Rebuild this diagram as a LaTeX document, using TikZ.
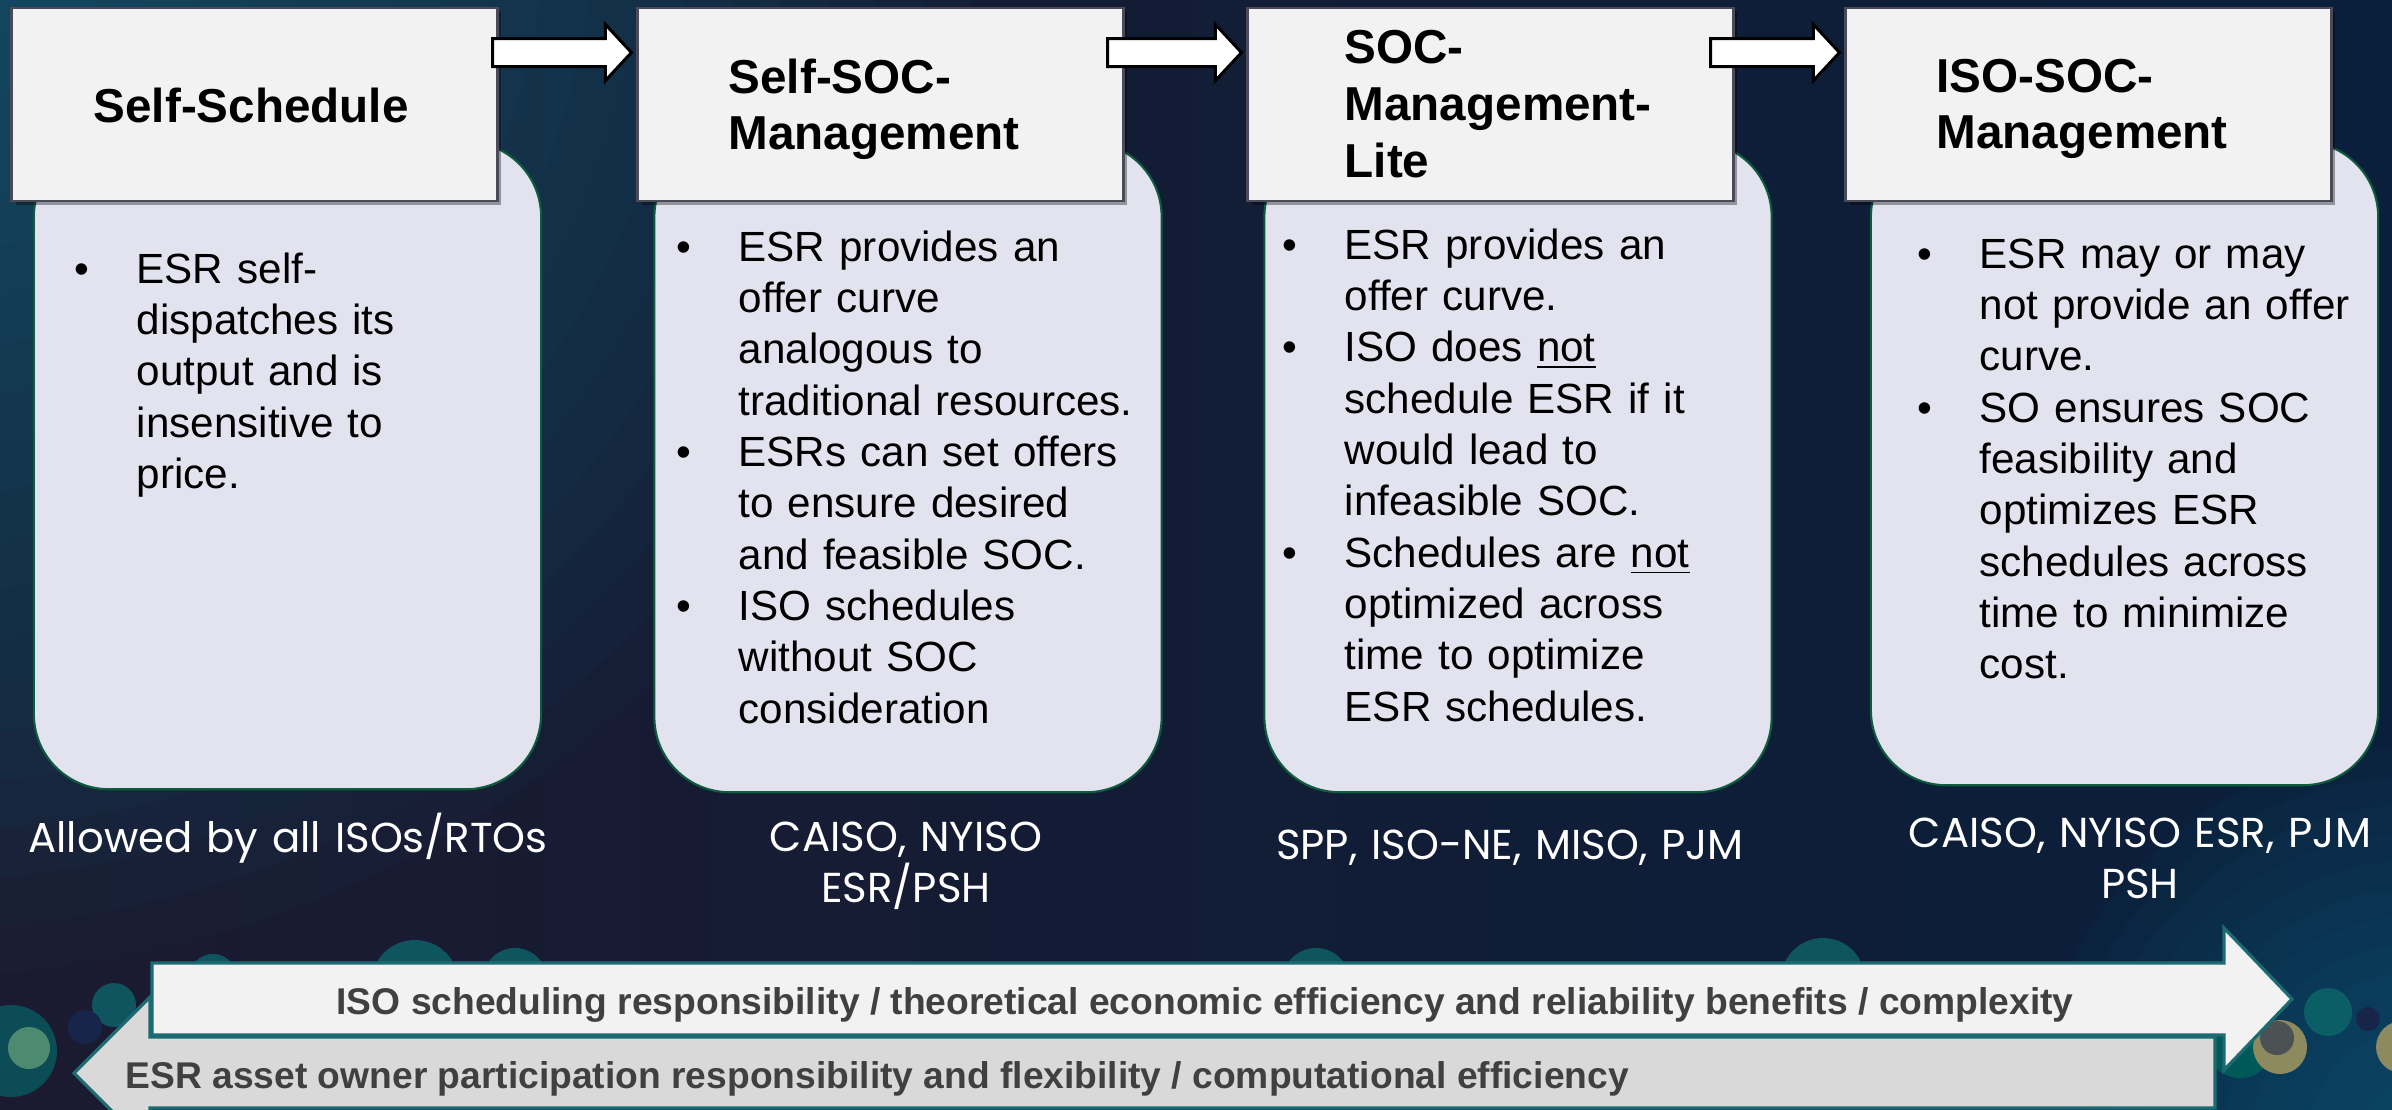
\documentclass[tikz,border=0pt]{standalone}
\usepackage{fontspec}
\setmainfont{Liberation Sans}
\newfontfamily\gothic{Poppins}
\usetikzlibrary{calc,shadows}

\definecolor{bgL}{HTML}{1B1A30}
\definecolor{bgR}{HTML}{0A1F3B}
\definecolor{glowTeal}{HTML}{137590}
\definecolor{cornerTeal}{HTML}{0A6A8C}
\definecolor{hdrFill}{HTML}{F2F2F2}
\definecolor{hdrLine}{HTML}{4A4A58}
\definecolor{bodyFill}{HTML}{E3E3EF}
\definecolor{bodyLine}{HTML}{0D5C3E}
\definecolor{dotTeal}{HTML}{0E5560}
\definecolor{dotNavy}{HTML}{17254A}
\definecolor{dotGreen}{HTML}{4E8A6F}
\definecolor{dotOlive}{HTML}{8C8A5E}
\definecolor{dotGray}{HTML}{4B5254}
\definecolor{bandLine}{HTML}{1D6B72}
\definecolor{bandText}{HTML}{404040}
\definecolor{bandLight}{HTML}{F2F2F2}
\definecolor{bandGray}{HTML}{D9D9D9}

% bullet hanging to the left of the text column
\newcommand{\bul}{\leavevmode\llap{\textbullet\hspace{0.476cm}}}

% block arrow between two header boxes
\newcommand{\hdrarrow}[3]{%
  \draw[harrow] ($(#1.north east)+(#3,32)$) -- ($(#2.north west)+(-31,32)$)
    -- ($(#2.north west)+(-31,18)$) -- ($(#2.north west)+(-5,46)$)
    -- ($(#2.north west)+(-31,74)$) -- ($(#2.north west)+(-31,60)$)
    -- ($(#1.north east)+(#3,60)$) -- cycle;}

\begin{document}
\begin{tikzpicture}[x=0.01cm,y=-0.01cm,
  hdr/.style={fill=hdrFill, draw=hdrLine, line width=0.8pt,
    minimum width=4.85cm, minimum height=1.93cm, inner sep=0,
    drop shadow={shadow xshift=1.2pt, shadow yshift=-1.2pt, opacity=0.35, fill=black}},
  body/.style={fill=bodyFill, draw=bodyLine, line width=0.6pt, rounded corners=0.75cm,
    minimum width=5.07cm, inner sep=0},
  harrow/.style={fill=white, draw=black, line width=0.85pt, line join=miter},
  band/.style={draw=bandLine, line width=0.9pt, line join=miter},
  hdrtext/.style={anchor=base west, inner sep=0, text width=4.2cm, align=left,
    font=\fontsize{13.54}{16.2}\selectfont\bfseries, text=black},
  bodytext/.style={anchor=base west, inner sep=0, text width=4.6cm, align=left,
    font=\fontsize{12.0}{14.6}\selectfont, text=black},
  label/.style={anchor=base, inner sep=0, text width=6cm, align=center,
    font=\gothic\fontsize{11.9}{14.5}\selectfont, text=white},
  bandtext/.style={inner sep=0, font=\fontsize{10.58}{12}\selectfont\bfseries, text=bandText}]

\useasboundingbox (0,0) rectangle (2392,1109);

\begin{scope}
  \clip (0,0) rectangle (2392,1109);
  % backdrop
  \shade[left color=bgL, right color=bgR] (0,0) rectangle (2392,1109);
  \foreach \k in {1,...,22}
    \fill[glowTeal, opacity=0.04] (-80,-80) circle ({48*\k});
  \foreach \k in {1,...,14}
    \fill[cornerTeal, opacity=0.06] (2420,1140) circle ({28*\k});

  % decorative dots along the bottom
  \fill[dotTeal] (213,978) circle (24);
  \fill[dotTeal] (415,984) circle (44);
  \fill[dotTeal] (515,980) circle (32);
  \fill[dotTeal] (1216,985) circle (18);
  \fill[dotTeal] (1316,982) circle (34);
  \fill[dotTeal] (1823,980) circle (42);
  \fill[dotTeal] (114,1005) circle (22);
  \fill[dotNavy] (85,1027) circle (17);
  \fill[dotTeal!90!black] (11,1051) circle (46);
  \fill[dotGreen] (29,1048) circle (21);
  \fill[teal!70!black] (2240,1045) circle (33);
  \fill[dotTeal!80!teal] (2328,1012) circle (24);
  \fill[dotNavy] (2368,1019) circle (12);
  \fill[dotOlive] (2280,1047) circle (27);
  \fill[dotGray] (2277,1038) circle (17);
  \fill[dotOlive] (2402,1047) circle (26);
\end{scope}

% content panels
\node[body, minimum height=6.47cm] (b1) at (287.5,465.5) {};
\node[body, minimum height=6.50cm] (b2) at (908,467) {};
\node[body, minimum height=6.50cm] (b3) at (1518,467) {};
\node[body, minimum height=6.43cm] (b4) at (2124.5,463.5) {};

% header boxes
\node[hdr] (h1) at (254.5,104.5) {};
\node[hdr] (h2) at (880.5,104.5) {};
\node[hdr] (h3) at (1490.5,104.5) {};
\node[hdr] (h4) at (2088.5,104.5) {};

\hdrarrow{h1}{h2}{-6}
\hdrarrow{h2}{h3}{-17}
\hdrarrow{h3}{h4}{-24}

% header titles
\node[hdrtext] (t1) at (93,122) {Self-Schedule};
\node[hdrtext] (t2) at (728,93) {Self-SOC-\\Management};
\node[hdrtext] (t3) at (1344,64) {SOC-\\Management-\\Lite};
\node[hdrtext] (t4) at (1936,92) {ISO-SOC-\\Management};

% panel texts
\node[bodytext] (p1) at (136,283) {\bul ESR self-\\dispatches its\\output and is\\insensitive to\\price.};
\node[bodytext] (p2) at (738,261) {\bul ESR provides an\\offer curve\\analogous to\\traditional resources.\\
  \bul ESRs can set offers\\to ensure desired\\and feasible SOC.\\
  \bul ISO schedules\\without SOC\\consideration};
\node[bodytext] (p3) at (1344,259) {\bul ESR provides an\\offer curve.\\
  \bul ISO does \underline{not}\\schedule ESR if it\\would lead to\\infeasible SOC.\\
  \bul Schedules are \underline{not}\\optimized across\\time to optimize\\ESR schedules.};
\node[bodytext] (p4) at (1979,268) {\bul ESR may or may\\not provide an offer\\curve.\\
  \bul SO ensures SOC\\feasibility and\\optimizes ESR\\schedules across\\time to minimize\\cost.};

% participating markets
\node[label] (l1) at (288,852) {Allowed by all ISOs/RTOs};
\node[label] (l2) at (906,851) {CAISO, NYISO\\ESR/PSH};
\node[label] (l3) at (1510,859) {SPP, ISO-NE, MISO, PJM};
\node[label] (l4) at (2140,847) {CAISO, NYISO ESR, PJM\\PSH};

% opposing bands at the bottom
\begin{scope}
  \clip (0,0) rectangle (2392,1109);
  \draw[band, fill=bandGray] (2215,1037) -- (150,1037) -- (150,997) -- (74,1073)
    -- (150,1149) -- (150,1108) -- (2215,1108) -- cycle;
\end{scope}
\draw[band, fill=bandLight] (152,963) -- (2224,963) -- (2224,928) -- (2292,999)
  -- (2224,1070) -- (2224,1035) -- (152,1035) -- cycle;

\node[bandtext, anchor=base] (iso) at (1205,1014)
  {ISO scheduling responsibility / theoretical economic efficiency and reliability benefits / complexity};
\node[bandtext, anchor=base west] (esr) at (125,1088)
  {ESR asset owner participation responsibility and flexibility / computational efficiency};

\end{tikzpicture}
\end{document}
